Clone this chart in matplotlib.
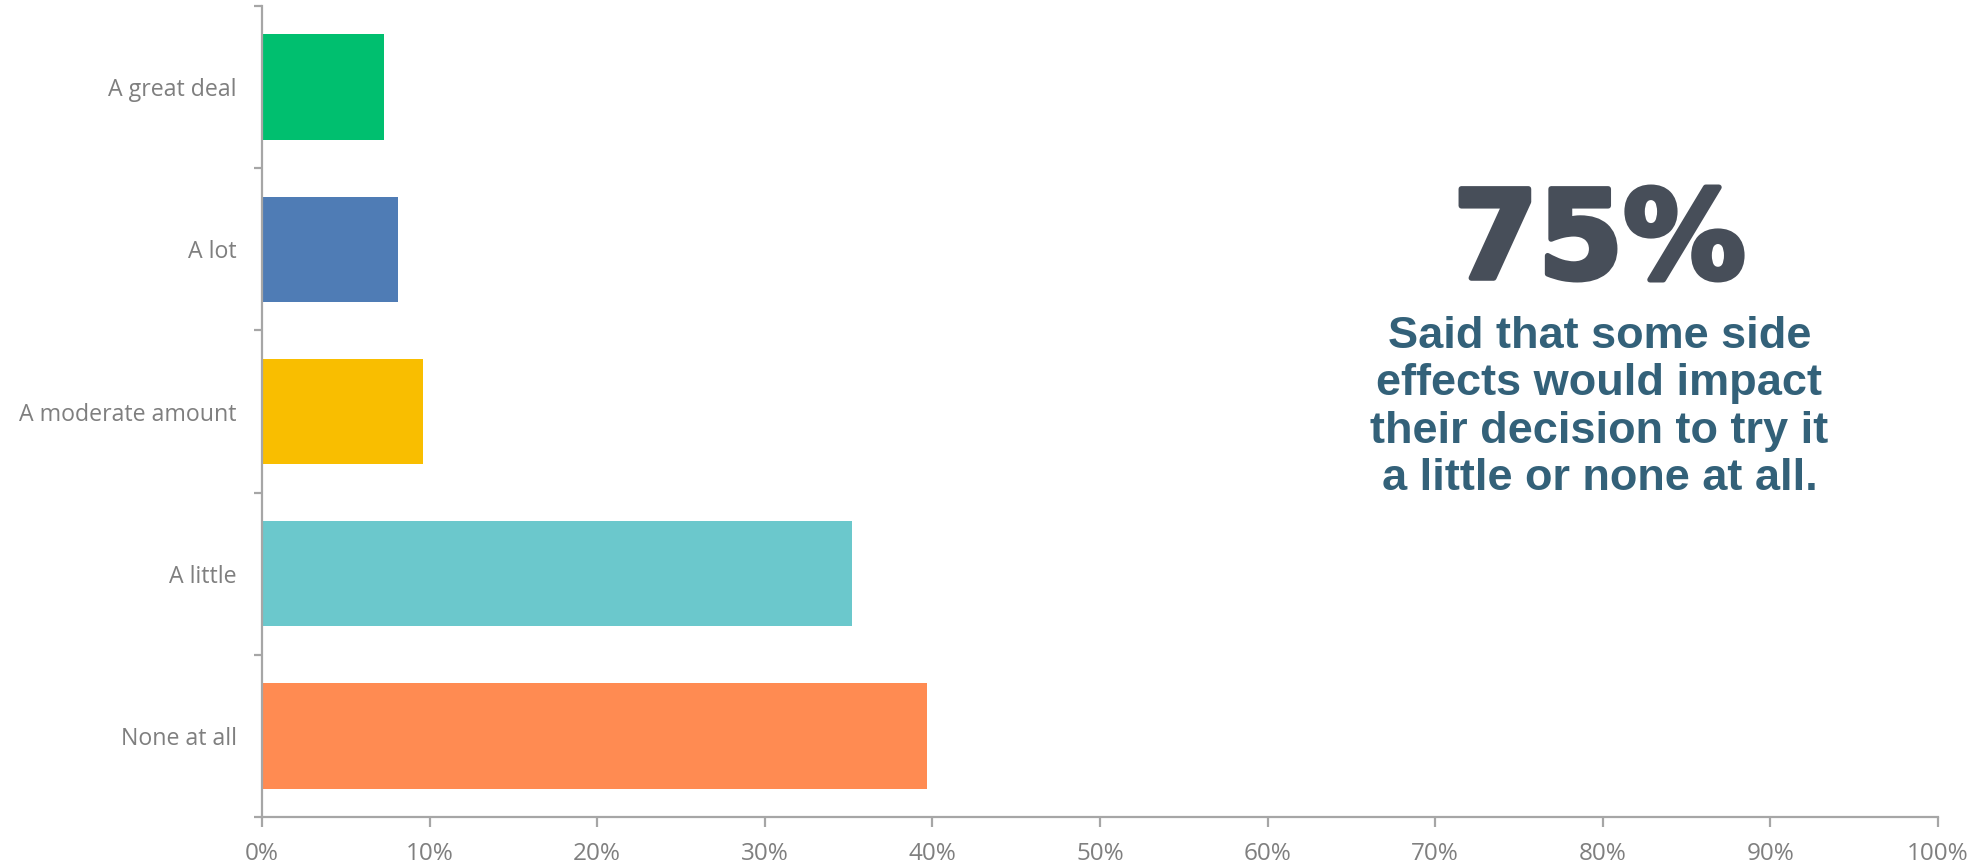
import numpy as np
import matplotlib.pyplot as plt
import matplotlib.patheffects as pe
from matplotlib.ticker import PercentFormatter

# survey answers, top to bottom
categories = ['A great deal', 'A lot', 'A moderate amount', 'A little', 'None at all']
values = [7.3, 8.1, 9.6, 35.2, 39.7]     # percent
colors = ['#00BF6F', '#4F7CB5', '#F9BE00', '#6BC8CC', '#FF8B52']

big_number = '75%'
caption = 'Said that some side\neffects would impact\ntheir decision to try it\na little or none at all.'

axis_grey = '#A6A6A6'
label_grey = '#7F7F7F'

fig = plt.figure(figsize=(19.77, 8.67), dpi=100)
ax = fig.add_axes([0.1325, 0.0577, 0.8478, 0.9353])

pos = np.arange(len(categories))
ax.barh(pos, values, height=0.65, color=colors)

ax.set_xlim(0, 100)
ax.set_ylim(len(categories) - 0.5, -0.5)
ax.set_xticks(np.arange(0, 101, 10))
ax.xaxis.set_major_formatter(PercentFormatter(decimals=0))

# excel style: ticks between categories, labels in the middle
ax.set_yticks(np.arange(-0.5, len(categories), 1.0))
ax.set_yticklabels([])
ax.set_yticks(pos, minor=True)
ax.set_yticklabels(categories, minor=True)

for s in ['top', 'right']:
    ax.spines[s].set_visible(False)
for s in ['left', 'bottom']:
    ax.spines[s].set_color(axis_grey)
    ax.spines[s].set_linewidth(1.6)

ax.tick_params(axis='x', which='major', direction='out', length=7, width=1.6,
               color=axis_grey, pad=11, labelsize=17.5, labelcolor=label_grey)
ax.tick_params(axis='y', which='major', direction='out', length=6, width=1.6,
               color=axis_grey)
ax.tick_params(axis='y', which='minor', length=0, pad=18, labelsize=16.7,
               labelcolor=label_grey)
for lab in ax.get_xticklabels() + ax.get_yticklabels(minor=True):
    lab.set_fontfamily('Open Sans')

fig.text(0.809, 0.718, big_number, ha='center', va='center', fontsize=88,
         fontweight='bold', color='#474E59', family='DejaVu Sans',
         path_effects=[pe.withStroke(linewidth=4, foreground='#474E59')])
fig.text(0.809, 0.530, caption, ha='center', va='center', fontsize=32.5,
         fontweight='bold', color='#336179', family='Liberation Sans',
         linespacing=1.19)

plt.savefig('out.png', dpi=100)
